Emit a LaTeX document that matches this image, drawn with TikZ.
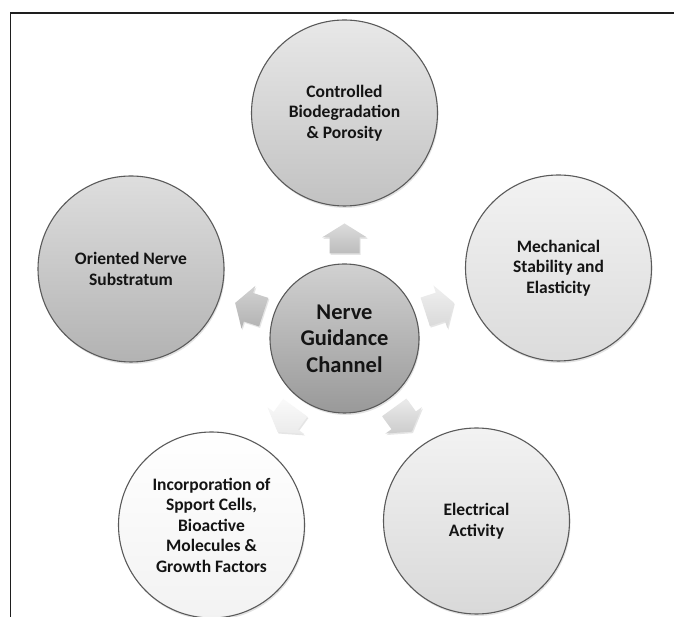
\documentclass[tikz,border=0pt]{standalone}
\usepackage{fontspec}
\setmainfont{Carlito}
\usetikzlibrary{calc,shadows}
\definecolor{rimgray}{HTML}{5A5A5A}
\definecolor{framegray}{HTML}{1E1E1E}
\definecolor{txtgray}{HTML}{141414}
\tikzset{
  bubble/.style={circle, draw=rimgray, line width=1.1pt, minimum size=186pt,
    inner sep=0pt, align=center, text=txtgray,
    font=\bfseries\fontsize{17.5}{20.5}\selectfont,
    drop shadow={shadow xshift=1pt, shadow yshift=-2pt, opacity=0.22}},
  hub/.style={bubble, minimum size=149pt, font=\bfseries\fontsize{22.5}{26.5}\selectfont},
  arrowbox/.style={drop shadow={shadow xshift=1pt, shadow yshift=-1.5pt, opacity=0.2}},
  frameline/.style={draw=framegray, line width=1.5pt}
}
\newcommand\blockarr[4]{%
  \path[arrowbox, top color=#3, bottom color=#4, shift={($(c)!100pt!(#1)$)}, rotate=#2]
    (0,15) -- (22.5,1) -- (15,1) -- (15,-15) -- (-15,-15) -- (-15,1) -- (-22.5,1) -- cycle;}
\begin{document}
\begin{tikzpicture}[x=1pt,y=1pt]
\useasboundingbox (0,0) rectangle (674,617);
\fill[white] (0,0) rectangle (674,617);
\draw[frameline] (674,604) -- (10.5,604) -- (10.5,0);

\node[hub, top color=black!18, bottom color=black!40] (c) at (344.5,278.5) {Nerve\\Guidance\\Channel};
\node[bubble, top color=black!9, bottom color=black!24] (t) at (344.5,504) {Controlled\\Biodegradation\\\& Porosity};
\node[bubble, top color=black!13, bottom color=black!30] (l) at (131,348) {Oriented Nerve\\Substratum};
\node[bubble, top color=black!5, bottom color=black!14] (r) at (558.5,349) {Mechanical\\Stability and\\Elasticity};
\node[bubble, top color=white, bottom color=black!5] (bl) at (211.5,92) {Incorporation of\\Spport Cells,\\Bioactive\\Molecules \&\\Growth Factors};
\node[bubble, top color=black!5, bottom color=black!15] (br) at (476.5,96) {Electrical\\Activity};

\blockarr{t}{0}{black!14}{black!26}
\blockarr{l}{72}{black!18}{black!30}
\blockarr{r}{-72}{black!6}{black!15}
\blockarr{bl}{144}{black!2}{black!8}
\blockarr{br}{-144}{black!8}{black!20}
\end{tikzpicture}
\end{document}
